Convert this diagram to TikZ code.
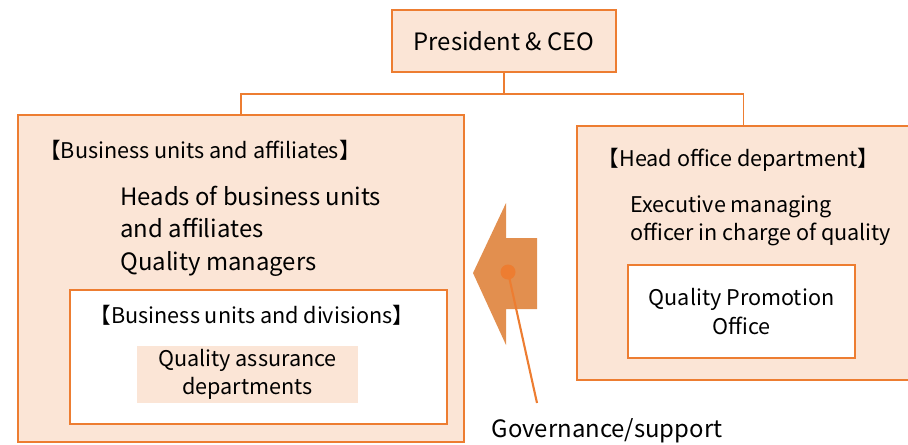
\documentclass[tikz,border=0pt]{standalone}
\usepackage{fontspec}
\setmainfont{Noto Sans CJK JP}
\usetikzlibrary{calc}
\definecolor{LineClr}{HTML}{ED7D31}
\definecolor{BoxClr}{HTML}{FBE5D6}
\definecolor{ArrowClr}{HTML}{E28F4F}

\begin{document}
\begin{tikzpicture}[x=0.02cm,y=-0.02cm,
  unit/.style={draw=LineClr,fill=BoxClr,line width=1.1pt,inner sep=0pt},
  office/.style={draw=LineClr,fill=white,line width=1.1pt,inner sep=0pt},
  link/.style={draw=LineClr,line width=0.9pt},
  txt/.style={inner sep=0pt,font=\fontsize{12.3}{16}\selectfont},
  big/.style={font=\fontsize{13.6}{18.4}\selectfont}]
\useasboundingbox (0,0) rectangle (908,444);

% boxes
\node[unit,big,minimum width=4.48cm,minimum height=1.24cm] (ceo) at (504,41) {President \& CEO};
\node[unit,minimum width=8.92cm,minimum height=6.54cm] (bu) at (241,278.5) {};
\node[unit,minimum width=6.66cm,minimum height=5.08cm] (ho) at (743.5,253) {};
\node[office,minimum width=7.54cm,minimum height=2.68cm] (div) at (258.5,357) {};
\node[office,minimum width=4.54cm,minimum height=1.86cm] (qpo) at (741.5,311.5) {};
\node[fill=BoxClr,minimum width=4.42cm,minimum height=1.14cm] (qa) at (247.5,374.5) {};

% texts
\node[txt] (buT) at (200,150) {【Business units and affiliates】};
\node[txt,big,anchor=west,align=left] (heads) at (120,231)
  {Heads of business units\\and affiliates\\Quality managers};
\node[txt] (divT) at (252,315) {【Business units and divisions】};
\node[txt,align=center] (qaT) at (qa) {Quality assurance\\departments};
\node[txt] (hoT) at (738.5,160) {【Head office department】};
\node[txt,anchor=west,align=left] (emo) at (630,221) {Executive managing\\officer in charge of quality};
\node[txt,align=center,font=\fontsize{12.3}{16.4}\selectfont] (qpoT) at (qpo) {Quality Promotion\\Office};
\node[txt,big] (gov) at (607,431) {Governance/support};

% reporting lines
\coordinate (jn) at (504,94);
\draw[link] (ceo.south) -- (jn);
\draw[link] (jn) -| (bu.north);
\draw[link] (jn) -| (ho.north);

% governance arrow
\fill[ArrowClr] (473,273) -- (506,203) -- (506,238) -- (537,238) -- (537,309) -- (506,309) -- (506,345) -- cycle;
\node[circle,fill=LineClr,inner sep=0pt,minimum size=0.3cm] (dot) at (508,272) {};
\coordinate (lead) at (537,403);
\draw[link,line width=1.2pt] (dot.center) -- (lead);

\end{tikzpicture}
\end{document}
